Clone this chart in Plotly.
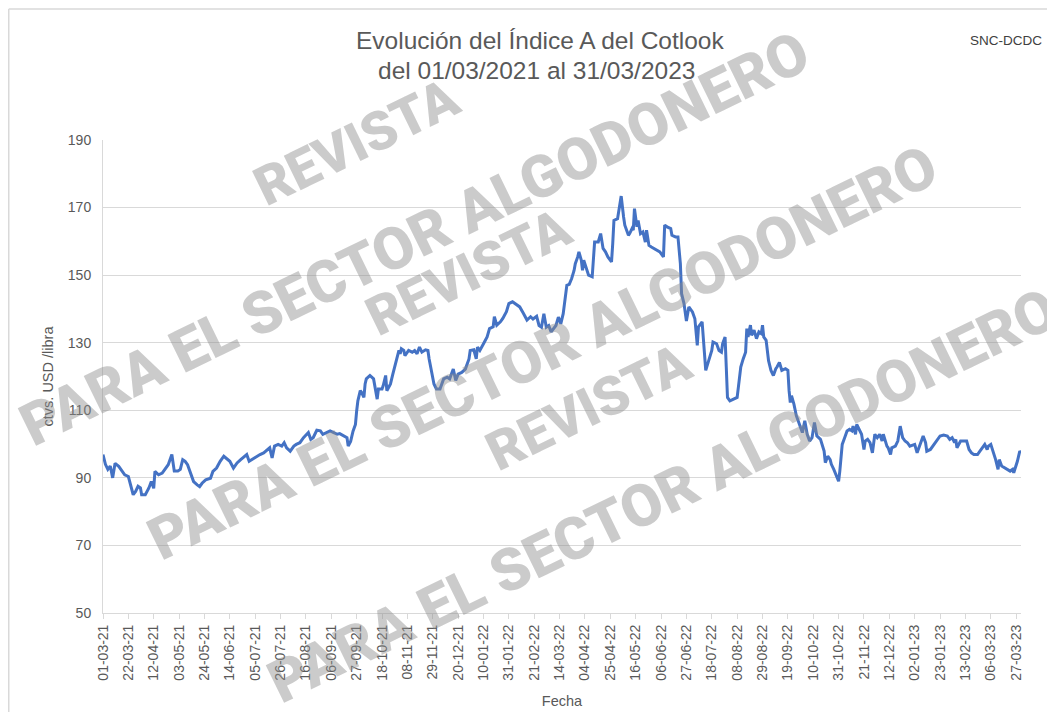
import plotly.graph_objects as go

# ---------------- data ----------------
dates = [
    "2021-03-01", "2021-03-03", "2021-03-05", "2021-03-07", "2021-03-09", "2021-03-11", "2021-03-14", "2021-03-16",
    "2021-03-19", "2021-03-22", "2021-03-23", "2021-03-26", "2021-03-28", "2021-03-30", "2021-04-01", "2021-04-02",
    "2021-04-05", "2021-04-08", "2021-04-10", "2021-04-12", "2021-04-13", "2021-04-16", "2021-04-19", "2021-04-21",
    "2021-04-24", "2021-04-27", "2021-04-29", "2021-05-02", "2021-05-04", "2021-05-06", "2021-05-08", "2021-05-10",
    "2021-05-12", "2021-05-15", "2021-05-18", "2021-05-20", "2021-05-22", "2021-05-25", "2021-05-29", "2021-05-31",
    "2021-06-03", "2021-06-06", "2021-06-09", "2021-06-11", "2021-06-14", "2021-06-17", "2021-06-20", "2021-06-23",
    "2021-06-25", "2021-06-28", "2021-06-30", "2021-07-04", "2021-07-06", "2021-07-09", "2021-07-12", "2021-07-15",
    "2021-07-17", "2021-07-19", "2021-07-21", "2021-07-24", "2021-07-27", "2021-07-29", "2021-07-31", "2021-08-03",
    "2021-08-06", "2021-08-08", "2021-08-11", "2021-08-14", "2021-08-17", "2021-08-18", "2021-08-20", "2021-08-22",
    "2021-08-25", "2021-08-28", "2021-08-30", "2021-09-02", "2021-09-05", "2021-09-08", "2021-09-11", "2021-09-13",
    "2021-09-16", "2021-09-19", "2021-09-20", "2021-09-22", "2021-09-24", "2021-09-26", "2021-09-27", "2021-09-28",
    "2021-09-30", "2021-10-01", "2021-10-03", "2021-10-04", "2021-10-05", "2021-10-08", "2021-10-11", "2021-10-12",
    "2021-10-14", "2021-10-15", "2021-10-18", "2021-10-19", "2021-10-21", "2021-10-22", "2021-10-25", "2021-10-27",
    "2021-10-29", "2021-10-30", "2021-11-01", "2021-11-02", "2021-11-03", "2021-11-05", "2021-11-06", "2021-11-09",
    "2021-11-12", "2021-11-14", "2021-11-16", "2021-11-18", "2021-11-20", "2021-11-23", "2021-11-25", "2021-11-26",
    "2021-11-28", "2021-11-30", "2021-12-02", "2021-12-05", "2021-12-08", "2021-12-11", "2021-12-13", "2021-12-16",
    "2021-12-18", "2021-12-20", "2021-12-23", "2021-12-26", "2021-12-29", "2021-12-30", "2022-01-02", "2022-01-04",
    "2022-01-05", "2022-01-07", "2022-01-10", "2022-01-13", "2022-01-15", "2022-01-18", "2022-01-19", "2022-01-21",
    "2022-01-24", "2022-01-26", "2022-01-29", "2022-01-31", "2022-02-03", "2022-02-07", "2022-02-09", "2022-02-12",
    "2022-02-15", "2022-02-18", "2022-02-20", "2022-02-23", "2022-02-25", "2022-02-27", "2022-03-01", "2022-03-03",
    "2022-03-05", "2022-03-07", "2022-03-09", "2022-03-11", "2022-03-13", "2022-03-15", "2022-03-17", "2022-03-19",
    "2022-03-20", "2022-03-22", "2022-03-24", "2022-03-26", "2022-03-27", "2022-03-29", "2022-03-30", "2022-04-01",
    "2022-04-02", "2022-04-03", "2022-04-05", "2022-04-07", "2022-04-10", "2022-04-11", "2022-04-12", "2022-04-15",
    "2022-04-17", "2022-04-19", "2022-04-21", "2022-04-23", "2022-04-26", "2022-04-27", "2022-04-28", "2022-05-01",
    "2022-05-02", "2022-05-04", "2022-05-06", "2022-05-07", "2022-05-10", "2022-05-11", "2022-05-13", "2022-05-14",
    "2022-05-15", "2022-05-17", "2022-05-18", "2022-05-20", "2022-05-22", "2022-05-24", "2022-05-25", "2022-05-27",
    "2022-05-29", "2022-05-31", "2022-06-03", "2022-06-05", "2022-06-08", "2022-06-09", "2022-06-11", "2022-06-14",
    "2022-06-15", "2022-06-18", "2022-06-20", "2022-06-22", "2022-06-23", "2022-06-25", "2022-06-27", "2022-06-29",
    "2022-07-02", "2022-07-04", "2022-07-06", "2022-07-07", "2022-07-10", "2022-07-11", "2022-07-13", "2022-07-15",
    "2022-07-18", "2022-07-19", "2022-07-22", "2022-07-24", "2022-07-26", "2022-07-27", "2022-07-29", "2022-07-30",
    "2022-07-31", "2022-08-02", "2022-08-05", "2022-08-08", "2022-08-09", "2022-08-11", "2022-08-13", "2022-08-15",
    "2022-08-16", "2022-08-17", "2022-08-19", "2022-08-20", "2022-08-22", "2022-08-24", "2022-08-26", "2022-08-28",
    "2022-08-29", "2022-08-30", "2022-09-01", "2022-09-03", "2022-09-05", "2022-09-07", "2022-09-09", "2022-09-10",
    "2022-09-12", "2022-09-14", "2022-09-17", "2022-09-19", "2022-09-20", "2022-09-21", "2022-09-22", "2022-09-24",
    "2022-09-26", "2022-09-28", "2022-09-30", "2022-10-01", "2022-10-03", "2022-10-05", "2022-10-07", "2022-10-09",
    "2022-10-11", "2022-10-13", "2022-10-16", "2022-10-19", "2022-10-20", "2022-10-22", "2022-10-24", "2022-10-25",
    "2022-10-27", "2022-10-30", "2022-10-31", "2022-11-01", "2022-11-03", "2022-11-05", "2022-11-07", "2022-11-09",
    "2022-11-11", "2022-11-12", "2022-11-14", "2022-11-15", "2022-11-17", "2022-11-19", "2022-11-21", "2022-11-22",
    "2022-11-24", "2022-11-26", "2022-11-28", "2022-11-29", "2022-11-30", "2022-12-02", "2022-12-04", "2022-12-06",
    "2022-12-07", "2022-12-10", "2022-12-11", "2022-12-13", "2022-12-14", "2022-12-17", "2022-12-19", "2022-12-21",
    "2022-12-22", "2022-12-23", "2022-12-25", "2022-12-27", "2022-12-29", "2023-01-01", "2023-01-02", "2023-01-04",
    "2023-01-07", "2023-01-09", "2023-01-11", "2023-01-12", "2023-01-15", "2023-01-17", "2023-01-19", "2023-01-21",
    "2023-01-23", "2023-01-26", "2023-01-29", "2023-01-31", "2023-02-02", "2023-02-04", "2023-02-05", "2023-02-06",
    "2023-02-09", "2023-02-11", "2023-02-14", "2023-02-16", "2023-02-18", "2023-02-20", "2023-02-23", "2023-02-25",
    "2023-02-28", "2023-03-01", "2023-03-03", "2023-03-04", "2023-03-06", "2023-03-08", "2023-03-10", "2023-03-12",
    "2023-03-13", "2023-03-15", "2023-03-17", "2023-03-19", "2023-03-22", "2023-03-24", "2023-03-25", "2023-03-28",
    "2023-03-30", "2023-03-31",
]

index_a = [
    96.9, 94.0, 92.5, 93.5, 90.0, 94.3, 93.4, 92.4,
    90.9, 90.4, 88.9, 85.0, 86.0, 87.5, 87.0, 85.0,
    85.0, 87.0, 88.9, 86.9, 91.9, 90.9, 91.4, 92.4,
    93.9, 96.9, 92.0, 92.0, 92.5, 95.4, 94.9, 93.9,
    91.9, 88.9, 87.9, 87.4, 88.4, 89.4, 89.9, 91.9,
    92.9, 94.9, 96.4, 95.9, 94.9, 92.9, 94.4, 95.4,
    95.9, 96.9, 94.9, 95.9, 96.4, 96.9, 97.4, 98.4,
    98.9, 95.9, 99.4, 99.9, 99.4, 100.4, 98.9, 97.9,
    99.4, 99.9, 100.4, 101.9, 102.9, 103.4, 101.4, 101.9,
    104.1, 103.9, 102.9, 103.4, 103.9, 103.4, 102.9, 103.1,
    102.4, 101.9, 99.4, 100.8, 103.8, 105.8, 109.8, 112.8,
    115.8, 115.3, 113.8, 117.8, 119.3, 120.3, 119.3, 116.8,
    113.3, 116.3, 116.3, 117.3, 120.3, 115.8, 117.8, 120.8,
    123.7, 124.7, 127.7, 126.7, 128.2, 127.7, 126.2, 127.7,
    127.2, 127.7, 126.7, 128.7, 127.2, 127.9, 127.7, 125.2,
    121.7, 117.8, 116.3, 116.3, 119.3, 119.8, 119.3, 122.2,
    118.8, 120.7, 121.2, 122.2, 125.2, 127.7, 127.9, 125.2,
    128.7, 127.7, 129.7, 131.7, 134.2, 134.7, 137.7, 135.2,
    136.2, 137.2, 139.2, 141.6, 142.1, 141.1, 140.6, 138.7,
    136.7, 137.7, 137.0, 137.8, 135.1, 134.6, 138.6, 134.6,
    135.1, 133.2, 134.1, 135.1, 137.6, 135.6, 138.6, 143.5,
    147.0, 147.3, 149.0, 151.4, 153.4, 155.4, 156.9, 154.4,
    151.4, 154.4, 151.9, 150.0, 149.5, 154.4, 159.8, 159.8,
    162.3, 157.9, 156.9, 155.4, 153.9, 159.3, 166.2, 166.7,
    169.2, 173.4, 167.2, 164.8, 161.8, 162.3, 163.8, 163.3,
    169.7, 164.3, 166.2, 162.3, 162.8, 159.8, 163.3, 158.8,
    158.3, 157.9, 157.4, 156.9, 155.4, 164.8, 164.3, 163.8,
    161.8, 161.3, 161.3, 153.4, 144.5, 141.6, 136.4, 140.6,
    139.1, 137.1, 129.2, 134.7, 136.2, 131.7, 121.8, 124.2,
    127.7, 130.2, 129.7, 127.7, 127.2, 129.7, 131.7, 122.8,
    113.8, 112.8, 113.3, 113.8, 116.8, 122.8, 125.2, 127.2,
    134.2, 131.7, 135.2, 132.2, 133.7, 131.2, 133.2, 132.7,
    135.2, 131.7, 130.7, 124.7, 121.8, 120.3, 122.3, 122.8,
    124.2, 121.8, 122.3, 121.8, 115.8, 112.3, 114.3, 111.8,
    108.4, 106.4, 104.4, 103.4, 106.9, 102.9, 100.9, 101.9,
    106.4, 102.4, 101.4, 97.9, 94.5, 96.4, 95.4, 94.0,
    92.5, 90.0, 89.0, 92.0, 99.9, 101.9, 103.9, 104.4,
    103.9, 105.3, 102.9, 105.8, 104.4, 102.9, 98.4, 100.9,
    101.4, 100.4, 97.4, 100.9, 102.9, 101.9, 102.9, 100.9,
    102.9, 99.4, 98.9, 96.9, 98.9, 99.4, 100.9, 105.3,
    102.9, 101.9, 100.9, 100.4, 99.4, 99.9, 99.9, 97.4,
    100.4, 102.4, 100.4, 97.9, 98.4, 99.4, 100.4, 101.4,
    102.4, 102.7, 102.4, 101.4, 101.9, 100.4, 101.4, 98.9,
    100.9, 100.9, 100.9, 98.4, 97.4, 96.9, 96.9, 97.9,
    99.4, 99.9, 98.4, 99.4, 99.9, 97.9, 95.4, 92.5,
    95.4, 93.5, 93.0, 92.5, 92.0, 92.5, 91.5, 94.9,
    97.9, 97.5,
]

title_lines = ["Evolución del Índice A del Cotlook", "del 01/03/2021 al 31/03/2023"]
source_label = "SNC-DCDC"
y_title = "ctvs. USD /libra"
x_title = "Fecha"
watermark_top = "REVISTA"
watermark_bottom = "PARA EL SECTOR ALGODONERO"

# ---------------- layout geometry ----------------
# The page body adds an 8px offset, so the figure is 8px smaller and
# screen coordinates are converted with that offset in mind.
OFF = 8
W, H = 1055 - OFF, 712 - OFF
L, T = 103 - OFF, 140 - OFF
PW, PH = 918, 473
R = W - L - PW
B = H - T - PH


def px(sx):
    return (sx - OFF - L) / PW


def py(sy):
    return (H - B - (sy - OFF)) / PH


GREY = "#595959"
GRID = "#d9d9d9"
FONT = "Liberation Sans, Arial, sans-serif"

fig = go.Figure()
fig.add_trace(go.Scatter(
    x=dates, y=index_a, mode="lines",
    line=dict(color="#4472C4", width=3),
    showlegend=False, hoverinfo="x+y",
))

annotations = [
    dict(text=title_lines[0], x=px(540), y=py(40), xref="paper", yref="paper",
         showarrow=False, xanchor="center", yanchor="middle",
         font=dict(family=FONT, size=24.5, color=GREY)),
    dict(text=title_lines[1], x=px(536), y=py(71), xref="paper", yref="paper",
         showarrow=False, xanchor="center", yanchor="middle",
         font=dict(family=FONT, size=24.5, color=GREY)),
    dict(text=source_label, x=px(1006), y=py(40), xref="paper", yref="paper",
         showarrow=False, xanchor="center", yanchor="middle",
         font=dict(family=FONT, size=13.5, color="#404040")),
]

WM_COLOR = "rgba(140,140,140,0.45)"
wm_font_top = dict(family="Roboto, Liberation Sans, Arial, sans-serif", size=54, weight=900, color=WM_COLOR)
wm_font_bottom = dict(family="Roboto, Liberation Sans, Arial, sans-serif", size=59, weight=900, color=WM_COLOR)
wm_positions = [
    ((356, 142), (414, 238)),
    ((468, 272), (542, 352)),
    ((588, 407), (662, 495)),
]
for (rx, ry), (lx, ly) in wm_positions:
    annotations.append(dict(text=watermark_top, x=px(rx), y=py(ry),
                            xref="paper", yref="paper", showarrow=False,
                            xanchor="center", yanchor="middle", textangle=-26,
                            font=wm_font_top))
    annotations.append(dict(text=watermark_bottom, x=px(lx), y=py(ly),
                            xref="paper", yref="paper", showarrow=False,
                            xanchor="center", yanchor="middle", textangle=-26,
                            font=wm_font_bottom))

shapes = [
    dict(type="line", xref="paper", yref="paper", x0=px(OFF + 0.75), x1=px(1060), y0=py(9), y1=py(9),
         line=dict(color=GRID, width=1.5)),
    dict(type="line", xref="paper", yref="paper", x0=px(OFF + 0.75), x1=px(OFF + 0.75), y0=py(9), y1=py(720),
         line=dict(color=GRID, width=1.5)),
]

fig.update_layout(
    width=W, height=H,
    margin=dict(l=L, r=R, t=T, b=B, autoexpand=False),
    paper_bgcolor="white", plot_bgcolor="white",
    font=dict(family=FONT, color=GREY),
    annotations=annotations,
    shapes=shapes,
    xaxis=dict(
        type="date",
        range=["2021-03-01", "2023-03-31"],
        tick0="2021-03-01", dtick=21 * 86400000,
        tickformat="%d-%m-%y", tickangle=-90,
        tickfont=dict(family=FONT, size=14, color=GREY),
        ticks="outside", ticklen=5, tickcolor=GRID,
        showgrid=False, showline=True, linecolor=GRID, linewidth=1,
        zeroline=False,
        title=dict(text=x_title, font=dict(family=FONT, size=14.5, color=GREY), standoff=16),
    ),
    yaxis=dict(
        range=[50, 190], dtick=20, tick0=50,
        tickfont=dict(family=FONT, size=14, color=GREY),
        ticklabelstandoff=8,
        showgrid=True, gridcolor=GRID, gridwidth=1,
        showline=True, linecolor=GRID, linewidth=1,
        zeroline=False, ticks="",
        title=dict(text=y_title, font=dict(family=FONT, size=14.5, color=GREY), standoff=10),
    ),
)

fig.write_html("out.html")
